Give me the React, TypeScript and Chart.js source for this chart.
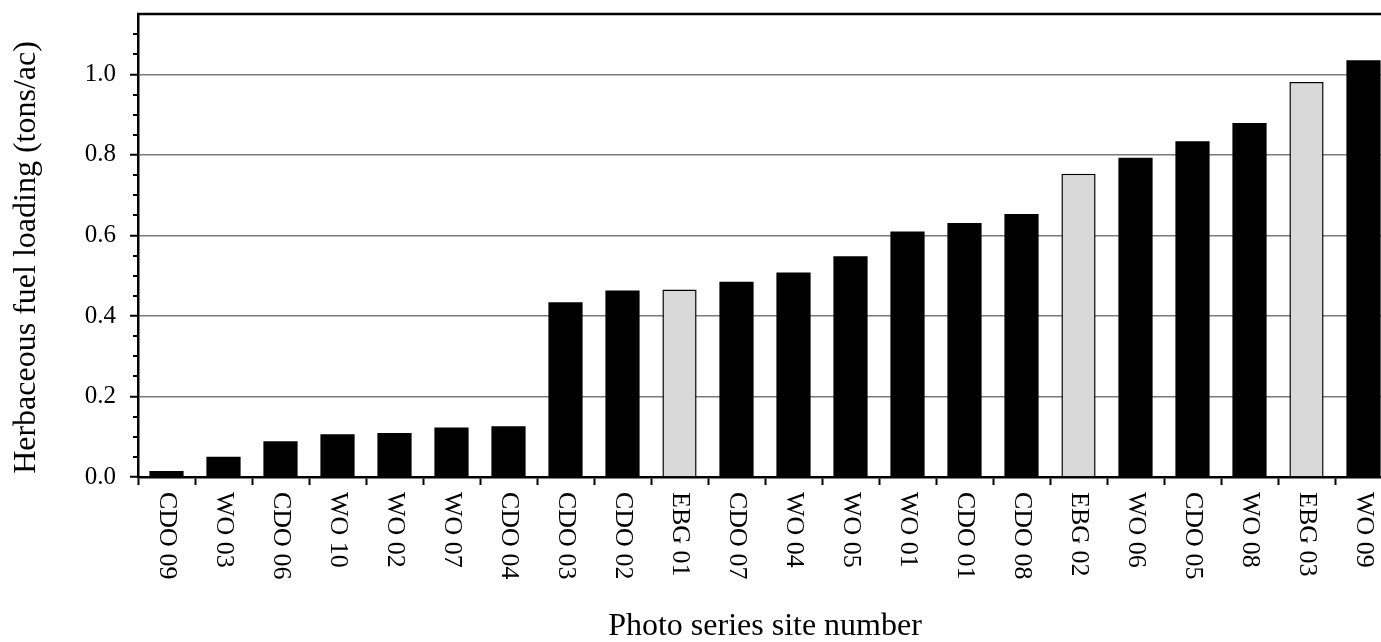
import React, { useEffect, useRef } from 'react';
import { Chart, registerables } from 'chart.js';

Chart.register(...registerables);

const sites = [
  'CDO 09', 'WO 03', 'CDO 06', 'WO 10', 'WO 02', 'WO 07', 'CDO 04', 'CDO 03',
  'CDO 02', 'EBG 01', 'CDO 07', 'WO 04', 'WO 05', 'WO 01', 'CDO 01', 'CDO 08',
  'EBG 02', 'WO 06', 'CDO 05', 'WO 08', 'EBG 03', 'WO 09',
];
const fuelLoading = [
  0.015, 0.05, 0.089, 0.106, 0.109, 0.123, 0.126, 0.434,
  0.463, 0.466, 0.485, 0.508, 0.548, 0.61, 0.631, 0.653,
  0.753, 0.793, 0.834, 0.879, 0.981, 1.035,
];
const yMajorTicks = [0, 0.2, 0.4, 0.6, 0.8, 1.0];
const yMinorTicks = [0.05, 0.1, 0.15, 0.25, 0.3, 0.35, 0.45, 0.5, 0.55, 0.65, 0.7, 0.75, 0.85, 0.9, 0.95, 1.05, 1.1];
const yMin = 0;
const yMax = 1.15;
const xTitle = 'Photo series site number';
const yTitle = 'Herbaceous fuel loading (tons/ac)';

const FONT = '"Liberation Serif", "Times New Roman", serif';

const decorPlugin = {
  id: 'decor',
  afterDraw(chart: any) {
    const { ctx, chartArea, scales } = chart;
    const x = scales.x;
    const y = scales.y;
    ctx.save();
    ctx.strokeStyle = '#000';
    ctx.lineWidth = 2.5;
    ctx.beginPath();
    ctx.moveTo(chartArea.left - 1, chartArea.top);
    ctx.lineTo(chartArea.right, chartArea.top);
    ctx.stroke();
    ctx.lineWidth = 2;
    yMinorTicks.forEach((v) => {
      const py = Math.round(y.getPixelForValue(v));
      ctx.beginPath();
      ctx.moveTo(chartArea.left - 5, py);
      ctx.lineTo(chartArea.left, py);
      ctx.stroke();
    });
    ctx.fillStyle = '#000';
    ctx.font = '26px ' + FONT;
    ctx.textAlign = 'left';
    ctx.textBaseline = 'middle';
    sites.forEach((label, i) => {
      const px = x.getPixelForValue(i);
      ctx.save();
      ctx.translate(px, x.top + 15);
      ctx.rotate(Math.PI / 2);
      ctx.fillText(label, 0, 0);
      ctx.restore();
    });
    ctx.restore();
  },
};

export default function App() {
  const ref = useRef<HTMLCanvasElement>(null);

  useEffect(() => {
    if (!ref.current) return;
    Chart.defaults.font.family = FONT;
    const chart = new Chart(ref.current, {
      type: 'bar',
      data: {
        labels: sites,
        datasets: [
          {
            data: fuelLoading,
            backgroundColor: sites.map((s) => (s.startsWith('EBG') ? '#d9d9d9' : '#000000')),
            borderColor: '#000000',
            borderWidth: sites.map((s) => (s.startsWith('EBG') ? 1.5 : 0)),
            barPercentage: 0.6,
            categoryPercentage: 1.0,
          },
        ],
      },
      options: {
        responsive: false,
        animation: false,
        layout: { padding: { top: 14, left: 0, right: 0, bottom: 14 } },
        plugins: {
          legend: { display: false },
          tooltip: { enabled: false },
        },
        scales: {
          x: {
            type: 'category',
            offset: true,
            grid: {
              offset: true,
              drawOnChartArea: false,
              drawTicks: true,
              tickLength: 8,
              tickColor: '#000',
              tickWidth: 2,
            },
            border: { display: true, color: '#000', width: 2.5 },
            ticks: { display: false },
            title: {
              display: true,
              text: xTitle,
              color: '#000',
              font: { size: 32, family: FONT },
              padding: { top: 122.6, bottom: 0 },
            },
          },
          y: {
            min: yMin,
            max: yMax,
            afterBuildTicks: (scale: any) => {
              scale.ticks = yMajorTicks.map((v) => ({ value: v }));
            },
            afterFit: (scale: any) => {
              scale.width = 138;
              scale.paddingTop = 0;
              scale.paddingBottom = 0;
            },
            grid: {
              color: (c: any) => (c.tick && c.tick.value === 0 ? 'rgba(0,0,0,0)' : '#7a7a7a'),
              lineWidth: 1.5,
              tickColor: '#000',
              tickLength: 8,
              tickWidth: 2,
            },
            border: { display: true, color: '#000', width: 2.5 },
            ticks: {
              color: '#000',
              font: { size: 25, family: FONT },
              padding: 14,
              callback: (v: any) => Number(v).toFixed(1),
            },
            title: {
              display: true,
              text: yTitle + '   ',
              color: '#000',
              font: { size: 32, family: FONT },
              padding: { top: 7, bottom: 0 },
            },
          },
        },
      },
      plugins: [decorPlugin],
    } as any);
    return () => chart.destroy();
  }, []);

  return (
    <div
      style={{
        position: 'fixed',
        left: 0,
        top: 0,
        width: '100vw',
        height: '100vh',
        overflow: 'hidden',
        background: '#fff',
      }}
    >
      <canvas ref={ref} width={1392} height={660} style={{ position: 'absolute', left: 0, top: 0 }} />
    </div>
  );
}
